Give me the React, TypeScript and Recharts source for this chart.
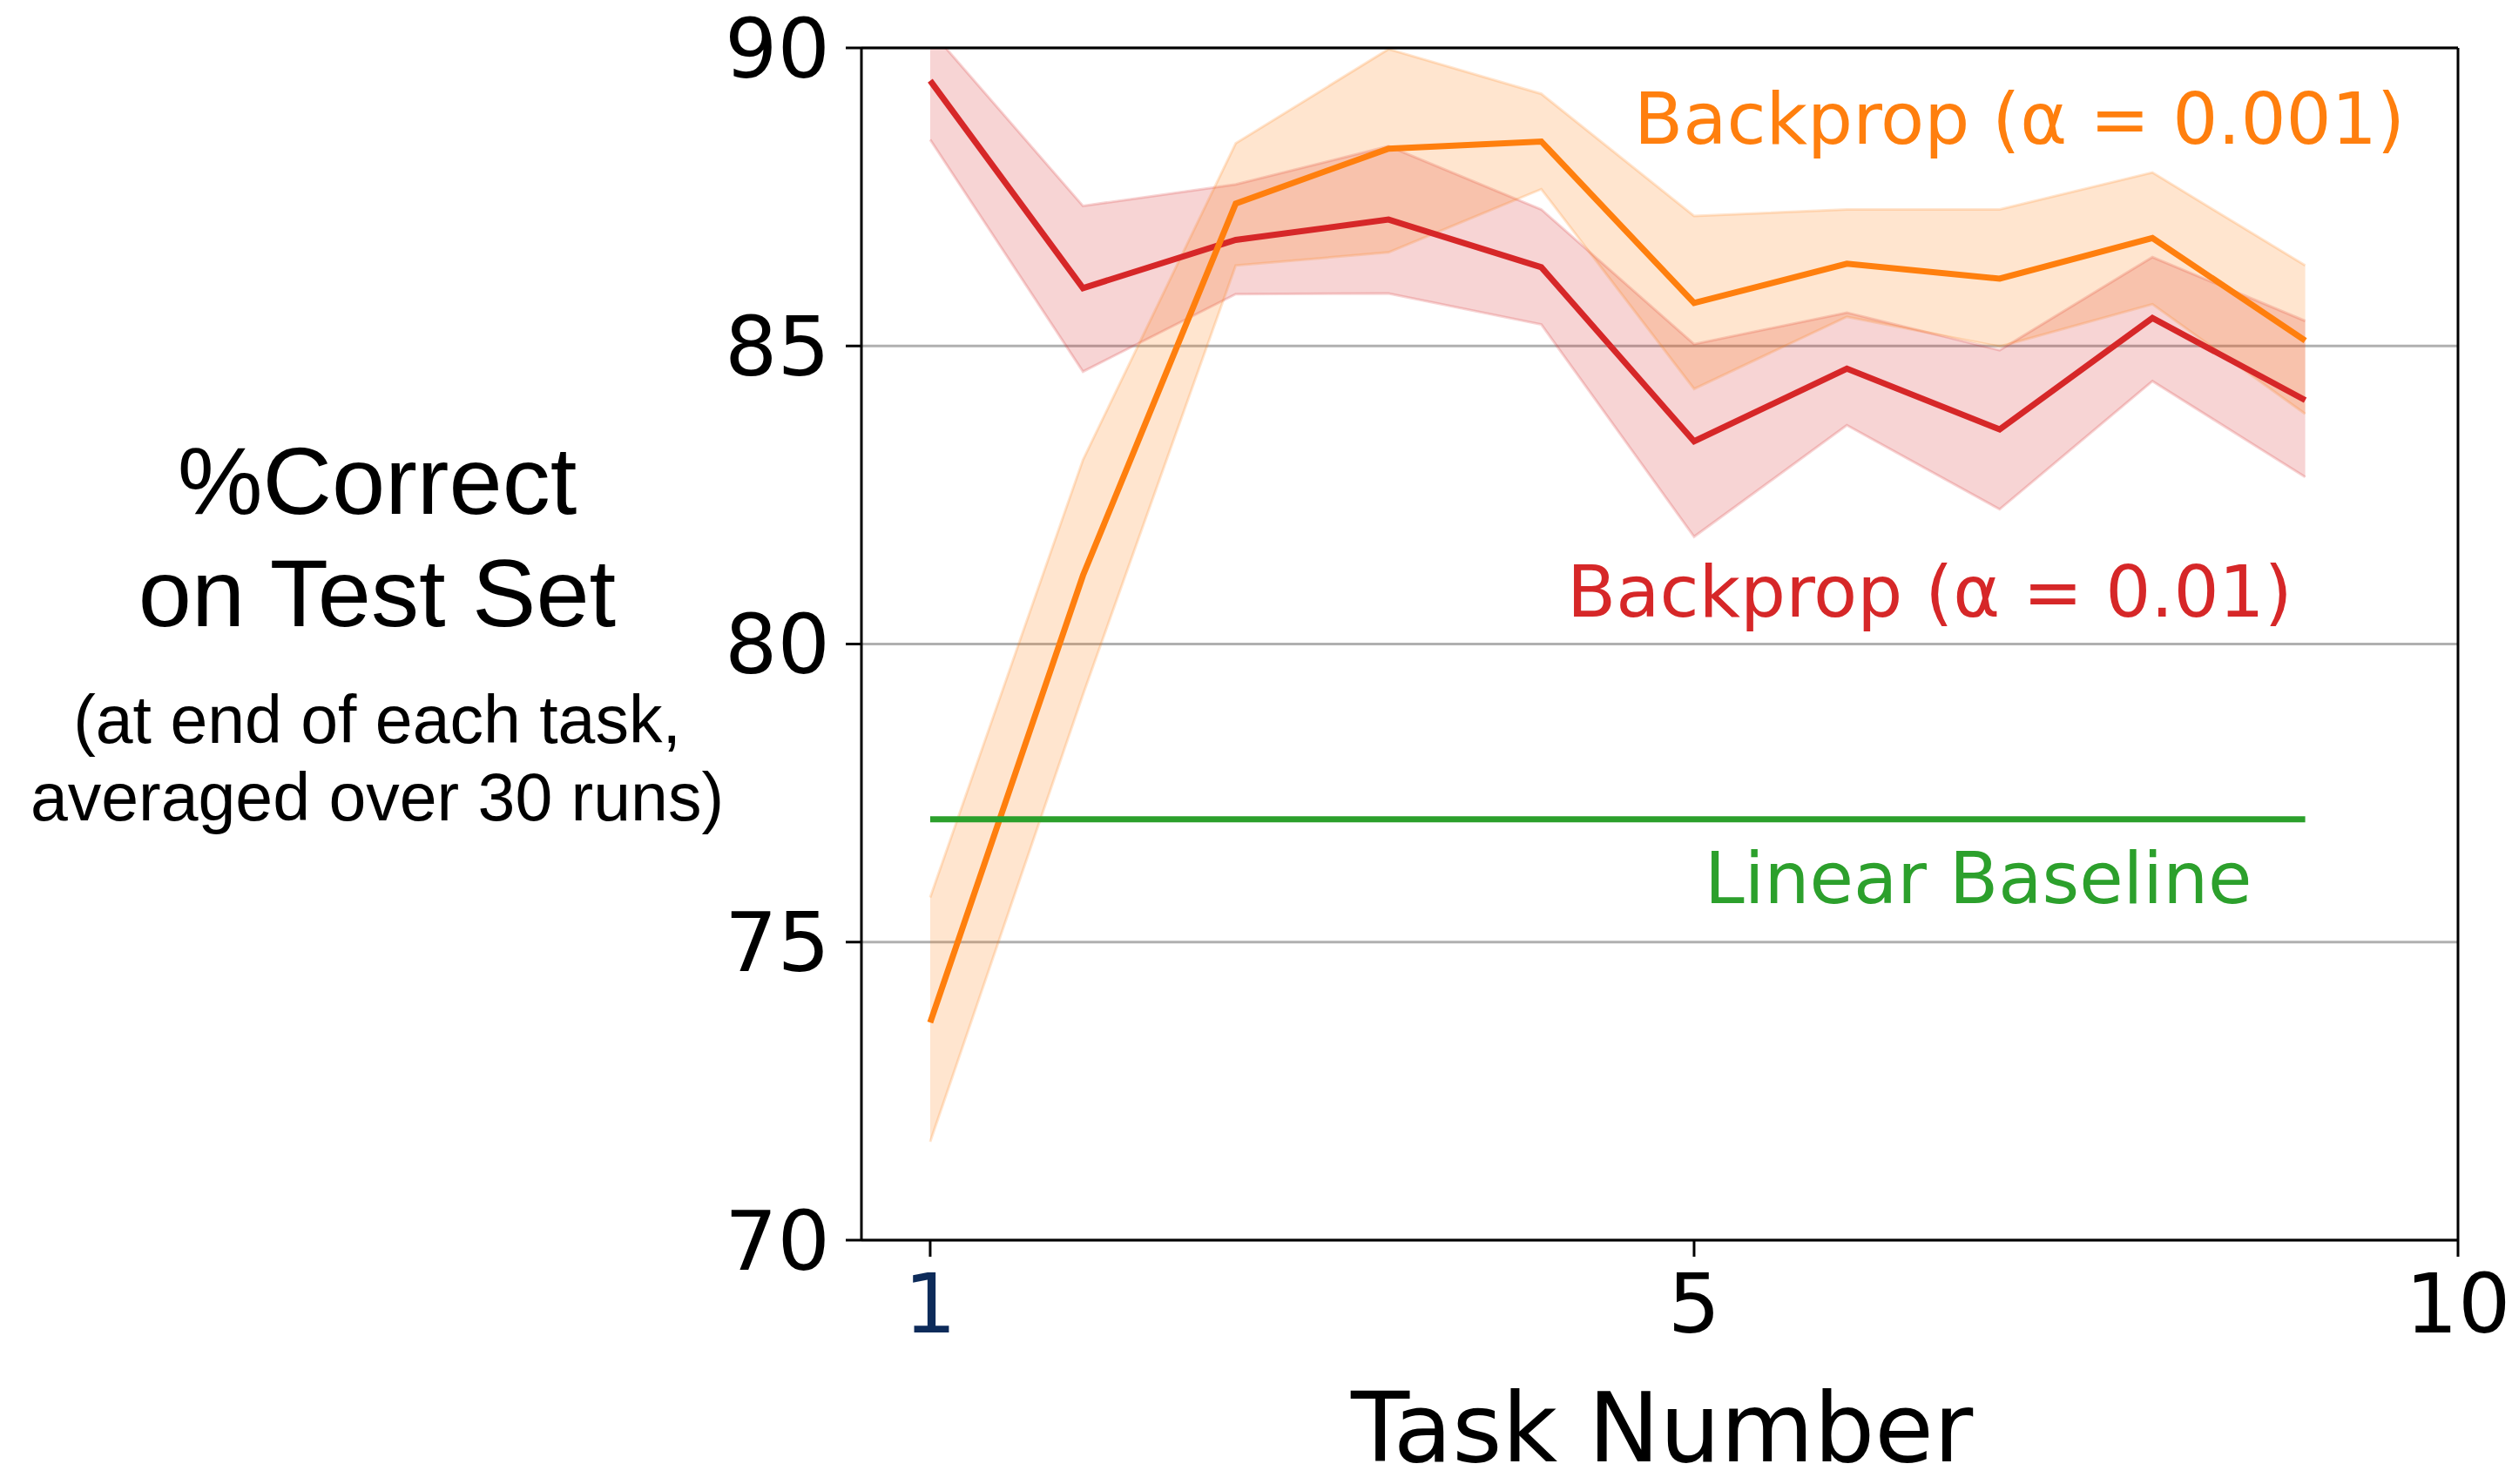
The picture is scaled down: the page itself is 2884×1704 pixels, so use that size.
import {
  Area,
  CartesianGrid,
  ComposedChart,
  Line,
  ReferenceLine,
  XAxis,
  YAxis,
} from "recharts";

// x positions of the tasks (ticks relabelled below)
const taskPos = [0, 1, 2, 3, 4, 5, 6, 7, 8, 9];
const xTicks = [0, 5, 10];
const xTickLabels = ["1", "5", "10"];
const yTicks = [70, 75, 80, 85, 90];

// Backprop (alpha = 0.001)
const orangeMean = [73.65, 81.15, 87.39, 88.31, 88.43, 85.72, 86.38, 86.13, 86.81, 85.09];
const orangeLow = [71.65, 79.15, 86.35, 86.57, 87.63, 84.28, 85.49, 84.99, 85.7, 83.86];
const orangeHigh = [75.75, 83.09, 88.4, 89.98, 89.23, 87.18, 87.29, 87.29, 87.91, 86.35];

// Backprop (alpha = 0.01)
const redMean = [89.45, 85.97, 86.78, 87.12, 86.32, 83.4, 84.62, 83.6, 85.47, 84.09];
const redLow = [88.46, 84.57, 85.87, 85.88, 85.36, 81.8, 83.67, 82.26, 84.41, 82.8];
const redHigh = [90.3, 87.35, 87.71, 88.35, 87.29, 85.03, 85.56, 84.93, 86.49, 85.42];

// Linear baseline
const baseline = [77.06, 77.06, 77.06, 77.06, 77.06, 77.06, 77.06, 77.06, 77.06, 77.06];

const ORANGE = "#ff7f0e";
const RED = "#d62728";
const GREEN = "#2ca02c";

const data = taskPos.map((t, i) => ({
  t,
  orange: orangeMean[i],
  orangeBand: [orangeLow[i], orangeHigh[i]],
  red: redMean[i],
  redBand: [redLow[i], redHigh[i]],
  baseline: baseline[i],
}));

function XTick(props: any) {
  const { x, y, payload } = props;
  const idx = xTicks.indexOf(payload.value);
  return (
    <text
      x={x}
      y={y}
      dy="0.71em"
      textAnchor="middle"
      fontFamily="DejaVu Sans"
      fontSize={95}
      fill={idx === 0 ? "#0d2b5a" : "#000"}
    >
      {xTickLabels[idx]}
    </text>
  );
}

export default function App() {
  return (
    <div style={{ position: "absolute", left: 0, top: 0, width: 2884, height: 1704, background: "#fff" }}>
      <ComposedChart
        width={2884}
        height={1704}
        data={data}
        margin={{ top: 55, right: 62, left: 0, bottom: 0 }}
      >
        <CartesianGrid vertical={false} stroke="#b0b0b0" strokeWidth={3} />
        <XAxis
          type="number"
          dataKey="t"
          domain={[-0.45, 10]}
          ticks={xTicks}
          allowDataOverflow
          height={280}
          tick={<XTick />}
          tickSize={19}
          tickMargin={20}
          axisLine={{ stroke: "#000", strokeWidth: 3 }}
          tickLine={{ stroke: "#000", strokeWidth: 3 }}
        />
        <YAxis
          type="number"
          domain={[70, 90]}
          ticks={yTicks}
          allowDataOverflow
          width={989}
          tickSize={18}
          tickMargin={18}
          tick={{ fontSize: 95, fill: "#000", fontFamily: "DejaVu Sans" }}
          axisLine={{ stroke: "#000", strokeWidth: 3 }}
          tickLine={{ stroke: "#000", strokeWidth: 3 }}
        />
        <Area
          type="linear"
          dataKey="redBand"
          fill={RED}
          fillOpacity={0.2}
          stroke={RED}
          strokeOpacity={0.2}
          strokeWidth={3}
          dot={false}
          activeDot={false}
          isAnimationActive={false}
        />
        <Area
          type="linear"
          dataKey="orangeBand"
          fill={ORANGE}
          fillOpacity={0.2}
          stroke={ORANGE}
          strokeOpacity={0.2}
          strokeWidth={3}
          dot={false}
          activeDot={false}
          isAnimationActive={false}
        />
        <Line type="linear" dataKey="red" stroke={RED} strokeWidth={7} dot={false} isAnimationActive={false} />
        <Line type="linear" dataKey="orange" stroke={ORANGE} strokeWidth={7} dot={false} isAnimationActive={false} />
        <Line type="linear" dataKey="baseline" stroke={GREEN} strokeWidth={7} dot={false} isAnimationActive={false} />
        <ReferenceLine y={90} stroke="#000" strokeWidth={3} />
        <ReferenceLine x={10} stroke="#000" strokeWidth={3} />
      </ComposedChart>

      <svg
        width={2884}
        height={1704}
        style={{ position: "absolute", left: 0, top: 0, pointerEvents: "none" }}
      >
        <g fontFamily="'Liberation Sans', Arial, sans-serif" textAnchor="middle" fill="#000">
          <text x={433} y={590} fontSize={110}>%Correct</text>
          <text x={433} y={719} fontSize={110}>on Test Set</text>
          <text x={433} y={853} fontSize={77}>(at end of each task,</text>
          <text x={433} y={942} fontSize={77}>averaged over 30 runs)</text>
        </g>
        <g fontFamily="DejaVu Sans" fontSize={82}>
          <text x={1876} y={165} fill={ORANGE}>Backprop (α = 0.001)</text>
          <text x={1799} y={708} fill={RED}>Backprop (α = 0.01)</text>
          <text x={1957} y={1037} fill={GREEN}>Linear Baseline</text>
        </g>
        <text x={1908} y={1678} fontFamily="DejaVu Sans" fontSize={110} textAnchor="middle" fill="#000">
          Task Number
        </text>
      </svg>
    </div>
  );
}
